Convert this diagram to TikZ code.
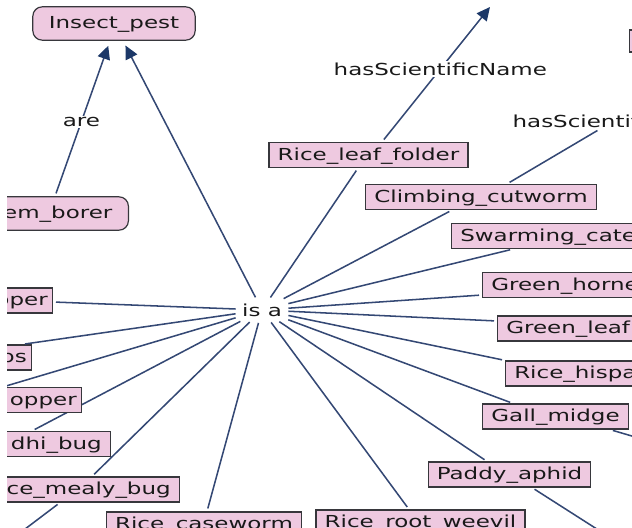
\documentclass[tikz,border=0pt]{standalone}
\usepackage{fontspec}
\setmainfont{DejaVu Sans}[FakeStretch=1.39]
\usepackage{tikz}
\usetikzlibrary{arrows.meta}

\definecolor{clsfill}{RGB}{238,201,224}
\definecolor{clsline}{RGB}{55,55,60}
\definecolor{edgeline}{RGB}{52,72,116}
\definecolor{tipfill}{RGB}{28,56,104}

\begin{document}
\begin{tikzpicture}[x=0.75pt,y=-0.75pt,font=\fontsize{12.4}{15}\selectfont,text=black!90,
    box/.style={draw=clsline,fill=clsfill,line width=0.9pt,inner xsep=6.5pt,inner ysep=0pt,
                minimum height=18.75pt,text height=11pt,text depth=3pt},
    rbox/.style={box,rounded corners=7pt,inner xsep=12pt,minimum height=25pt},
    cutleft/.style={text width=150pt,align=right},
    cutright/.style={text width=150pt,align=left},
    lbl/.style={fill=white,inner sep=1pt},
    link/.style={draw=edgeline,line width=1.15pt,shorten <=2.25pt,shorten >=2.25pt},
    isarrow/.style={link,-{Triangle[length=10pt,width=9.5pt,color=tipfill]},shorten >=4pt}]
  \useasboundingbox (0,0) rectangle (632,528);
  \clip (7,0) rectangle (632,528);

  % classes
  \node[rbox] (pest) at (114,23.5) {Insect\_pest};
  \node[rbox,cutleft,anchor=east] (borer) at (129,213.5) {em\_borer};
  \node[lbl,inner sep=2.5pt] (isa) at (262,310) {is a};

  \node[box] (folder) at (368.5,155) {Rice\_leaf\_folder};
  \node[box] (cutworm) at (481,197) {Climbing\_cutworm};
  \node[box,cutright,anchor=west] (swarm) at (451,236) {Swarming\_cate};
  \node[box,cutright,anchor=west] (horned) at (482,285) {Green\_horne};
  \node[box,cutright,anchor=west] (leafhop) at (497,328.5) {Green\_leaf};
  \node[box,cutright,anchor=west] (hispa) at (505,373.5) {Rice\_hispa};
  \node[box] (gall) at (555.5,416.5) {Gall\_midge};
  \node[box] (aphid) at (509.5,474.5) {Paddy\_aphid};
  \node[box] (weevil) at (420.5,522.5) {Rice\_root\_weevil};
  \node[box] (casew) at (204,524.5) {Rice\_caseworm};
  \node[box,cutleft,anchor=east] (mealy) at (180,489.5) {ce\_mealy\_bug};
  \node[box,cutleft,anchor=east] (gandhi) at (111,444) {dhi\_bug};
  \node[box,cutleft,anchor=east,inner xsep=3.5pt] (thrips) at (32,357.5) {ps};
  \node[box,cutleft,anchor=east,inner xsep=3.5pt] (pper) at (53,300.5) {pper};
  \node[box,anchor=west,minimum width=30pt,minimum height=16.5pt] (rcls) at (629,41) {};
  \node[lbl,anchor=west] (scilbl) at (511,121) {hasScientif};

  \coordinate (sciA) at (490,7);
  \coordinate (gallT) at (700,456);
  \coordinate (aphidT) at (625,547);
  \coordinate (mealyT) at (0,548);

  \path (borer.north -| 55,0) edge[isarrow] node[lbl,pos=0.48] {are} (pest.south -| 110,0)
        (isa) edge[isarrow] (pest.south -| 123,0)
        (folder.north -| 382,0) edge[isarrow,shorten >=0pt] node[lbl,pos=0.54] {hasScientificName} (sciA);

  \path[link] (isa) edge (folder.south -| 358,0)
                    edge (cutworm.south -| 452,0)
                    edge (swarm.south -| 513,0)
                    edge (horned.west |- 0,295)
                    edge (leafhop.west |- 0,321)
                    edge (hispa.north west)
                    edge (gall.north -| 513,0)
                    edge (aphid.north -| 487,0)
                    edge (weevil.north -| 409,0)
                    edge (casew.north -| 207,0)
                    edge (mealy.north -| 92,0)
                    edge (gandhi.north -| 32,0)
                    edge (thrips.north -| 22,0)
                    edge (pper.east |- 0,302);
  \path[link] (cutworm.north -| 507,0) edge (scilbl.south -| 600,0)
              (gall.south -| 610,0) edge (gallT)
              (aphid.south -| 532,0) edge (aphidT)
              (mealy.south -| 60,0) edge (mealyT);

  % drawn last, so that it hides the dhi_bug line
  \node[box,cutleft,anchor=east,inner xsep=3.5pt] (hopper) at (82,400) {opper};
  \path[link] (isa) edge (hopper.north -| 3,0);
\end{tikzpicture}
\end{document}
